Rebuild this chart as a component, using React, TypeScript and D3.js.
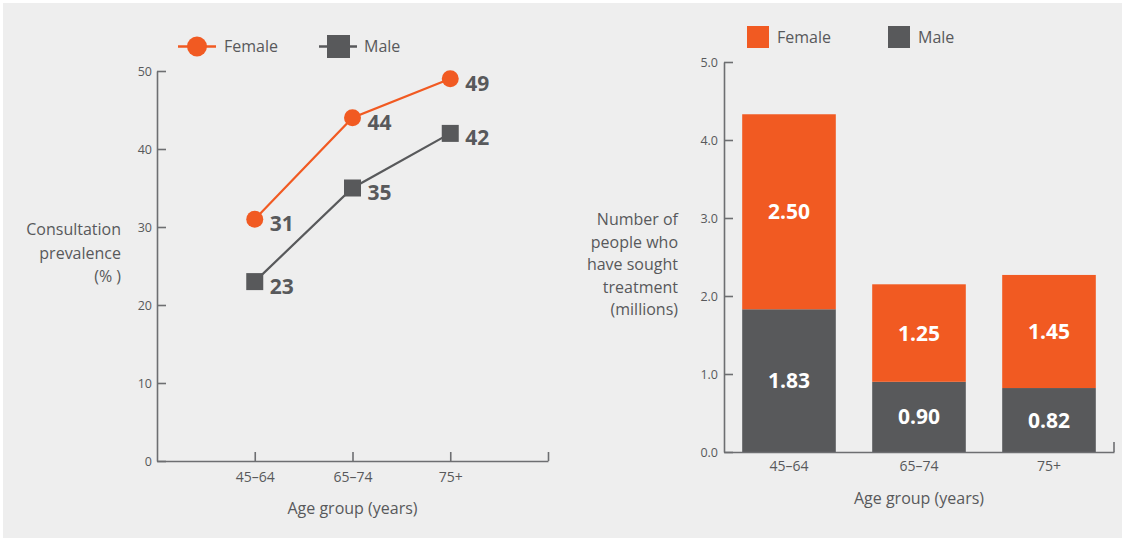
import React, { useEffect, useRef } from 'react';
import * as d3 from 'd3';

const ageGroups = ['45–64', '65–74', '75+'];
const femalePrevalence = [31, 44, 49];
const malePrevalence = [23, 35, 42];
const prevalenceTicks = [0, 10, 20, 30, 40, 50];
const femaleMillions = [2.5, 1.25, 1.45];
const maleMillions = [1.83, 0.9, 0.82];
const millionsTicks = [0, 1, 2, 3, 4, 5];

const ORANGE = '#f15a22';
const DARK = '#58595b';
const AXIS = '#6d6e71';
const TEXT = '#58595b';
const FONT = '"Open Sans", "Noto Sans", sans-serif';

const App: React.FC = () => {
  const svgRef = useRef<SVGSVGElement>(null);

  useEffect(() => {
    if (!svgRef.current) return;
    const svg = d3.select(svgRef.current);
    svg.selectAll('*').remove();

    svg.append('rect').attr('width', 1122).attr('height', 538).attr('fill', '#fff');
    svg.append('rect').attr('x', 3).attr('y', 3).attr('width', 1119).attr('height', 535).attr('fill', '#eeeeee');

    const styleAxis = (g: d3.Selection<SVGGElement, unknown, null, undefined>, size: number) => {
      g.attr('font-family', FONT).attr('font-size', size);
      g.selectAll('path, line').attr('stroke', AXIS).attr('stroke-width', 1.6);
      g.selectAll('text').attr('fill', TEXT);
    };

    // ---------- Left: line chart ----------
    const lx = d3.scalePoint<string>()
      .domain(['start', ...ageGroups, 'end'])
      .range([157, 548]);
    const ly = d3.scaleLinear().domain([0, 50]).range([461, 71]);

    const lyAxis = svg.append('g')
      .attr('transform', `translate(${lx('start')},0)`)
      .call(d3.axisLeft(ly).tickValues(prevalenceTicks).tickSizeInner(-9).tickSizeOuter(0).tickPadding(5));
    styleAxis(lyAxis, 12.5);

    const lxAxis = svg.append('g')
      .attr('transform', `translate(0,${ly(0)})`)
      .call(d3.axisBottom(lx)
        .tickValues([...ageGroups, 'end'])
        .tickFormat(d => (d === 'end' ? '' : d))
        .tickSizeInner(-9).tickSizeOuter(0).tickPadding(11));
    styleAxis(lxAxis, 14);

    const line = d3.line<number>()
      .x((_, i) => lx(ageGroups[i]) || 0)
      .y(d => ly(d));

    svg.append('path').datum(femalePrevalence)
      .attr('fill', 'none').attr('stroke', ORANGE).attr('stroke-width', 2.2).attr('d', line);
    svg.append('path').datum(malePrevalence)
      .attr('fill', 'none').attr('stroke', DARK).attr('stroke-width', 2.2).attr('d', line);

    svg.selectAll('.fdot').data(femalePrevalence).enter().append('circle')
      .attr('cx', (_, i) => lx(ageGroups[i]) || 0)
      .attr('cy', d => ly(d))
      .attr('r', 8.5)
      .attr('fill', ORANGE);
    svg.selectAll('.mdot').data(malePrevalence).enter().append('rect')
      .attr('x', (_, i) => (lx(ageGroups[i]) || 0) - 8.5)
      .attr('y', d => ly(d) - 8.5)
      .attr('width', 17).attr('height', 17)
      .attr('fill', DARK);

    [femalePrevalence, malePrevalence].forEach(vals => {
      svg.selectAll(null).data(vals).enter().append('text')
        .attr('x', (_, i) => (lx(ageGroups[i]) || 0) + 15)
        .attr('y', d => ly(d) + 12)
        .attr('font-family', FONT).attr('font-size', 21).attr('font-weight', 700)
        .attr('fill', TEXT)
        .text(d => d);
    });

    // left y title
    const lTitle = svg.append('text')
      .attr('font-family', FONT).attr('font-size', 16).attr('fill', TEXT)
      .attr('text-anchor', 'end');
    ['Consultation', 'prevalence', '(% )'].forEach((t, i) => {
      lTitle.append('tspan').attr('x', 121).attr('y', 235 + i * 23.5).text(t);
    });
    svg.append('text')
      .attr('x', lx(ageGroups[1]) || 0).attr('y', 514)
      .attr('text-anchor', 'middle')
      .attr('font-family', FONT).attr('font-size', 16).attr('fill', TEXT)
      .text('Age group (years)');

    // left legend
    const ll = svg.append('g').attr('font-family', FONT).attr('font-size', 16).attr('fill', TEXT);
    ll.append('line').attr('x1', 178).attr('x2', 216).attr('y1', 46.5).attr('y2', 46.5)
      .attr('stroke', ORANGE).attr('stroke-width', 2.5);
    ll.append('circle').attr('cx', 197).attr('cy', 46.5).attr('r', 10).attr('fill', ORANGE);
    ll.append('text').attr('x', 224).attr('y', 52).text('Female');
    ll.append('line').attr('x1', 319).attr('x2', 357).attr('y1', 46.5).attr('y2', 46.5)
      .attr('stroke', DARK).attr('stroke-width', 2.5);
    ll.append('rect').attr('x', 327).attr('y', 35).attr('width', 23).attr('height', 23).attr('fill', DARK);
    ll.append('text').attr('x', 364).attr('y', 52).text('Male');

    // ---------- Right: stacked bars ----------
    const rx = d3.scaleBand<string>()
      .domain(ageGroups)
      .range([724, 1114])
      .paddingInner(0.28)
      .paddingOuter(0.14);
    const ry = d3.scaleLinear().domain([0, 5]).range([452, 62]);

    const stacked = ageGroups.map((g, i) => ({ g, male: maleMillions[i], female: femaleMillions[i] }));

    svg.selectAll('.mbar').data(stacked).enter().append('rect')
      .attr('x', d => rx(d.g) || 0)
      .attr('y', d => ry(d.male))
      .attr('width', rx.bandwidth())
      .attr('height', d => ry(0) - ry(d.male))
      .attr('fill', DARK);
    svg.selectAll('.fbar').data(stacked).enter().append('rect')
      .attr('x', d => rx(d.g) || 0)
      .attr('y', d => ry(d.male + d.female))
      .attr('width', rx.bandwidth())
      .attr('height', d => ry(d.male) - ry(d.male + d.female))
      .attr('fill', ORANGE);

    const barLabel = (y: (d: typeof stacked[0]) => number, v: (d: typeof stacked[0]) => number) => {
      svg.selectAll(null).data(stacked).enter().append('text')
        .attr('x', d => (rx(d.g) || 0) + rx.bandwidth() / 2)
        .attr('y', d => y(d))
        .attr('dy', '0.36em')
        .attr('text-anchor', 'middle')
        .attr('font-family', FONT).attr('font-size', 21).attr('font-weight', 700)
        .attr('fill', '#fff')
        .text(d => d3.format('.2f')(v(d)));
    };
    barLabel(d => (ry(0) + ry(d.male)) / 2, d => d.male);
    barLabel(d => (ry(d.male) + ry(d.male + d.female)) / 2, d => d.female);

    const ryAxis = svg.append('g')
      .attr('transform', `translate(${rx.range()[0]},0)`)
      .call(d3.axisLeft(ry).tickValues(millionsTicks).tickFormat(d3.format('.1f'))
        .tickSizeInner(-9).tickSizeOuter(0).tickPadding(6));
    styleAxis(ryAxis, 12.5);

    const rxAxis = svg.append('g')
      .attr('transform', `translate(0,${ry(0)})`)
      .call(d3.axisBottom(rx).tickSize(0).tickPadding(9));
    rxAxis.append('line')
      .attr('x1', rx.range()[1]).attr('x2', rx.range()[1])
      .attr('y1', 0).attr('y2', -10);
    styleAxis(rxAxis, 14);

    const rTitle = svg.append('text')
      .attr('font-family', FONT).attr('font-size', 16).attr('fill', TEXT)
      .attr('text-anchor', 'end');
    ['Number of', 'people who', 'have sought', 'treatment', '(millions)'].forEach((t, i) => {
      rTitle.append('tspan').attr('x', 678).attr('y', 225 + i * 22.5).text(t);
    });
    svg.append('text')
      .attr('x', rx(ageGroups[1])! + rx.bandwidth() / 2).attr('y', 504)
      .attr('text-anchor', 'middle')
      .attr('font-family', FONT).attr('font-size', 16).attr('fill', TEXT)
      .text('Age group (years)');

    // right legend
    const rl = svg.append('g').attr('font-family', FONT).attr('font-size', 16).attr('fill', TEXT);
    rl.append('rect').attr('x', 747).attr('y', 26).attr('width', 22).attr('height', 22).attr('fill', ORANGE);
    rl.append('text').attr('x', 777).attr('y', 43).text('Female');
    rl.append('rect').attr('x', 888).attr('y', 26).attr('width', 22).attr('height', 22).attr('fill', DARK);
    rl.append('text').attr('x', 918).attr('y', 43).text('Male');
  }, []);

  return (
    <div>
      <style>{`body{margin:0}`}</style>
      <svg ref={svgRef} width={1122} height={538} style={{ display: 'block' }} />
    </div>
  );
};

export default App;
